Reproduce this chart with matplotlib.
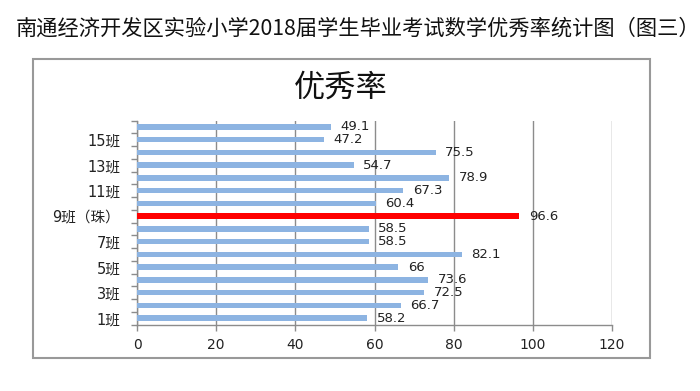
import matplotlib
matplotlib.use("Agg")
import matplotlib.pyplot as plt
from matplotlib.patches import Rectangle
import numpy as np

plt.rcParams['font.family'] = ['DejaVu Sans', 'Noto Sans CJK SC']

# -----------------------------
# DATA (bottom to top)
# -----------------------------
classes = ['1班', '2班', '3班', '4班', '5班', '6班', '7班', '8班',
           '9班（珠）', '10班', '11班', '12班', '13班', '14班', '15班', '16班']
rates = [58.2, 66.7, 72.5, 73.6, 66, 82.1, 58.5, 58.5,
         96.6, 60.4, 67.3, 78.9, 54.7, 75.5, 47.2, 49.1]
highlight = '9班（珠）'
x_ticks = [0, 20, 40, 60, 80, 100, 120]

# -----------------------------
# FIGURE
# -----------------------------
fig = plt.figure(figsize=(7, 3.91), dpi=100)
fig.patch.set_facecolor('white')

fig.text(358 / 700, 0.928, '南通经济开发区实验小学2018届学生毕业考试数学优秀率统计图（图三）',
         ha='center', va='center', fontsize=15.3,
         family=['Noto Sans CJK SC', 'DejaVu Sans'], color='#111111')

# outer chart box
fig.add_artist(Rectangle((33 / 700, 1 - 358 / 391), 617 / 700, 299 / 391,
                         transform=fig.transFigure, fill=False,
                         edgecolor='#999999', lw=1.5))

fig.text(341 / 700, 1 - 88 / 391, '优秀率', ha='center', va='center',
         fontsize=22.5, family=['Noto Sans CJK SC'], color='#111111')

ax = fig.add_axes([137 / 700, 1 - 324.5 / 391, 475 / 700, 204 / 391])

pos = np.arange(len(classes))
colors = ['#ff0000' if c == highlight else '#8db4e2' for c in classes]
ax.barh(pos, rates, height=0.42, color=colors, zorder=3)

for p, v in zip(pos, rates):
    ax.text(v + 2.4, p, f'{v:g}', va='center', ha='left', fontsize=9.5,
            color='#222222', zorder=4)

ax.set_xlim(0, 120)
ax.set_ylim(-0.5, len(classes) - 0.5)
ax.set_xticks(x_ticks)
ax.set_xticklabels([str(t) for t in x_ticks], fontsize=10, color='#222222')
ax.set_yticks(pos[::2])
ax.set_yticklabels(classes[::2], fontsize=10.5, color='#222222')
ax.set_yticks(np.arange(-0.5, len(classes), 1), minor=True)
ax.tick_params(axis='y', which='major', length=0, pad=12)
ax.tick_params(axis='y', which='minor', length=4, color='#8c8c8c', width=1)
ax.tick_params(axis='x', length=4, color='#8c8c8c', width=1, pad=6)

ax.grid(axis='x', color='#8c8c8c', lw=1, zorder=1)
for s in ['top', 'right']:
    ax.spines[s].set_visible(False)
for s in ['left', 'bottom']:
    ax.spines[s].set_color('#8c8c8c')
    ax.spines[s].set_linewidth(1)

plt.savefig('out.png', dpi=100)
plt.close()
